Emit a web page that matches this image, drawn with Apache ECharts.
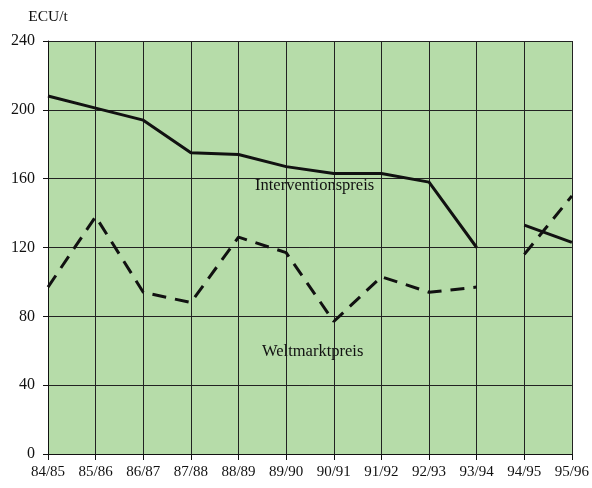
<!DOCTYPE html>
<html>
<head>
<meta charset="utf-8">
<script src="https://cdn.jsdelivr.net/npm/echarts@6/dist/echarts.min.js"></script>
<style>
  html, body { margin: 0; padding: 0; background: #fff; }
  #chart { width: 592px; height: 488px; }
</style>
</head>
<body>
<div id="chart"></div>
<script>
const years = ["84/85", "85/86", "86/87", "87/88", "88/89", "89/90",
  "90/91", "91/92", "92/93", "93/94", "94/95", "95/96"];
const yTicks = [0, 40, 80, 120, 160, 200, 240];
// gap between 93/94 and 94/95, so each line is split in two parts
const intervention1 = [208, 201, 194, 175, 174, 167, 163, 163, 158, 120, null, null];
const intervention2 = [null, null, null, null, null, null, null, null, null, null, 133, 123];
const weltmarkt1 = [97, 138, 94, 88, 126, 117, 77, 103, 94, 97, null, null];
const weltmarkt2 = [null, null, null, null, null, null, null, null, null, null, 116, 150];

const chart = echarts.init(document.getElementById("chart"));
const serif = "Liberation Serif";

function solid(data) {
  return {
    type: "line",
    data: data,
    symbol: "none",
    lineStyle: { color: "#111", width: 3 },
    silent: true,
  };
}
function dashed(data) {
  return {
    type: "line",
    data: data,
    symbol: "none",
    lineStyle: { color: "#111", width: 3, type: [14, 9] },
    silent: true,
  };
}

chart.setOption({
  animation: false,
  grid: {
    left: 48, right: 19, top: 41, bottom: 34,
    show: true,
    backgroundColor: "#b6dca9",
    borderWidth: 0,
  },
  xAxis: {
    type: "category",
    data: years,
    boundaryGap: false,
    axisLine: { lineStyle: { color: "#111", width: 1 } },
    axisTick: { show: true, length: 6, lineStyle: { color: "#111" } },
    axisLabel: { color: "#111", fontFamily: serif, fontSize: 15, margin: 11 },
    splitLine: { show: true, lineStyle: { color: "#222", width: 1 } },
  },
  yAxis: {
    type: "value",
    min: 0, max: 240, interval: 40,
    name: "ECU/t",
    nameLocation: "end",
    nameGap: 16,
    nameTextStyle: { color: "#111", fontFamily: serif, fontSize: 15.5, align: "center" },
    axisLine: { show: true, lineStyle: { color: "#111", width: 1 } },
    axisTick: { show: true, length: 5, lineStyle: { color: "#111" } },
    axisLabel: { color: "#111", fontFamily: serif, fontSize: 16, margin: 13,
      formatter: function (v) { return yTicks.indexOf(v) >= 0 ? String(v) : ""; } },
    splitLine: { show: true, lineStyle: { color: "#222", width: 1 } },
  },
  graphic: [
    { type: "text", left: 255, top: 177,
      style: { text: "Interventionspreis", font: "16.5px " + serif, fill: "#111" } },
    { type: "text", left: 262, top: 343,
      style: { text: "Weltmarktpreis", font: "16.5px " + serif, fill: "#111" } },
  ],
  series: [
    solid(intervention1), solid(intervention2),
    dashed(weltmarkt1), dashed(weltmarkt2),
  ],
});
</script>
</body>
</html>
